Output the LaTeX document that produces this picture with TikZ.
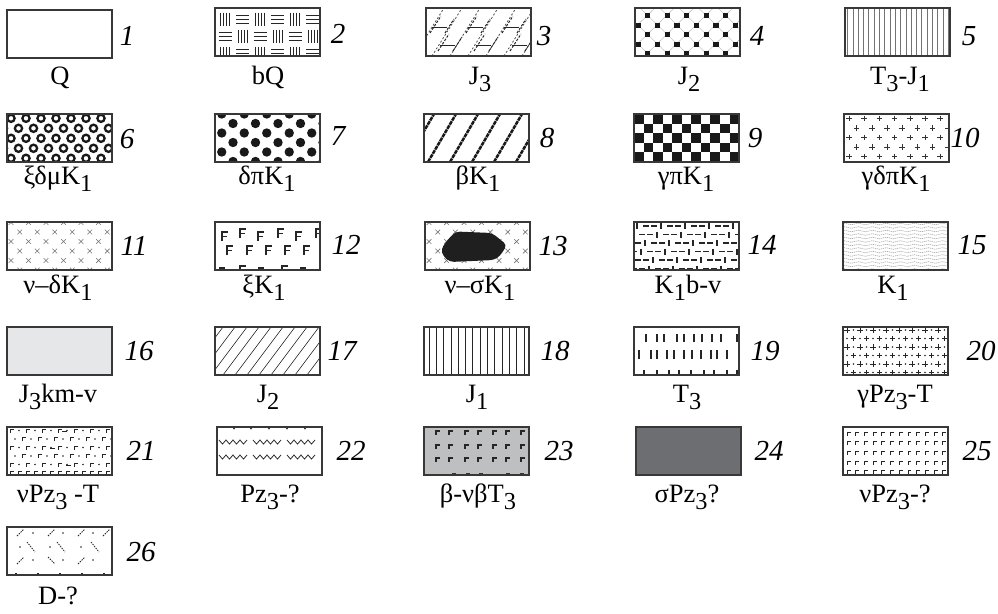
\documentclass[tikz,border=0pt]{standalone}
\usepackage{fontspec}
\setmainfont{Liberation Serif}
\usetikzlibrary{decorations.pathmorphing}
\definecolor{lgray}{HTML}{E6E7E8}
\definecolor{mgray}{HTML}{BEBFC1}
\definecolor{dgray}{HTML}{6D6E71}
\tikzset{
 frame/.style={draw=black!78, line width=1.4pt},
 num/.style={font=\fontsize{29}{29}\selectfont\itshape},
 lab/.style={font=\fontsize{26.5}{26.5}\selectfont, anchor=base},
}
\newcommand\lo[1]{\raisebox{-0.3em}{\scalebox{0.92}{#1}}}
\newcommand\legbox[3]{\begin{scope}[shift={(#1,#2)}]\begin{scope}\clip (0,0) rectangle (105,48);#3\end{scope}\draw[frame] (0,0) rectangle (105,48);\end{scope}}
\newcommand\Fg[2]{\draw[line width=1.5pt,black!85] (#1,#2+9) -- (#1,#2) -- (#1+6,#2) (#1,#2+4.5) -- (#1+4.5,#2+4.5);}
\newcommand\Gm[3]{\draw[line width=#3,black!85] (#1,#2+3.5) -- (#1,#2) -- (#1+3.5,#2);}
\newcommand\zz[3]{\draw[line width=0.8pt,black!85] (#1,#2) \foreach \q in {1,...,#3}{ -- ++(3.5,4) -- ++(3.5,-4)};}
\newcommand\crossgrid{\foreach \r in {0,...,5}{\foreach \i in {-1,...,6}{
   \pgfmathsetmacro\cx{4+17.5*\i+8.75*mod(\r,2)}\pgfmathsetmacro\cy{0.5+9.5*\r}
   \draw[black!55,line width=0.7pt] (\cx-2.3,\cy-2.3) -- (\cx+2.3,\cy+2.3) (\cx-2.3,\cy+2.3) -- (\cx+2.3,\cy-2.3);}}}
\begin{document}
\begin{tikzpicture}[x=1pt,y=-1pt]
\useasboundingbox (0,0) rectangle (998,613);
% ---------- row 1
\legbox{7}{10}{}
\legbox{215}{8}{
 \foreach \r in {0,1,2}{\foreach \i in {-1,...,6}{
  \pgfmathsetmacro\cx{10+17.5*\i}\pgfmathsetmacro\cy{11+17*\r}
  \pgfmathtruncatemacro\m{mod(\i+\r+10,2)}
  \ifnum\m=0 \foreach \d in {-4.5,-1.5,1.5,4.5}{\draw[line width=0.8pt,black!85] (\cx+\d,\cy-6.5) -- (\cx+\d,\cy+6.5);}
  \else \foreach \d in {-4,0,4}{\draw[line width=0.8pt,black!85] (\cx-6.5,\cy+\d) -- (\cx+6.5,\cy+\d);}\fi}}}
\legbox{426}{8}{
 \foreach \x in {-30,-12,...,110}{\draw[line width=0.8pt,black!70,dash pattern=on 2pt off 2pt] (\x,48) -- (\x+30,0);}
 \foreach \cx/\cy in {14/19,50/19,86/19,122/19,-14/37,22/37,58/37,94/37}{
  \draw[line width=1pt,black!85] (\cx-8,\cy) -- (\cx+7,\cy);
  \draw[line width=1pt,black!85,dash pattern=on 2.5pt off 1.5pt] (\cx-10,\cy+6) -- (\cx+1,\cy-11);
  \draw[line width=1pt,black!85,dash pattern=on 2.5pt off 1.5pt] (\cx+5,\cy+6) -- (\cx+14,\cy-8);}}
\legbox{635}{8}{
 \foreach \k in {-4,...,8}{
  \draw[black!30,line width=0.4pt] (2.7+19.5*\k-20,-1.8-20) -- ++(80,78);
  \draw[black!30,line width=0.4pt] (2.7+19.5*\k+20,-1.8-20) -- ++(-80,78);}
 \foreach \r in {0,...,5}{\foreach \i in {-1,...,6}{
  \pgfmathsetmacro\cx{12.7+19.5*\i-9.75*(1-mod(\r,2))}\pgfmathsetmacro\cy{-1.8+9.5*\r}
  \fill[black!90] (\cx-2.7,\cy-2.7) rectangle ++(5.4,5.4);}}}
\legbox{845}{8}{
 \foreach \x in {2.5,7.8,...,105}{\draw[black!55,line width=0.5pt] (\x,0) -- (\x,48);}}
% ---------- row 2
\legbox{7}{114}{
 \foreach \r in {0,...,4}{\foreach \i in {-1,...,7}{
  \pgfmathsetmacro\cx{4+15*\i+7.5*mod(\r,2)}\pgfmathsetmacro\cy{4.3+10*\r}
  \draw[black!90,line width=2.3pt] (\cx,\cy) circle[radius=3.6];}}}
\legbox{215}{114}{
 \foreach \r in {0,...,5}{\foreach \i in {-1,...,5}{
  \pgfmathsetmacro\cx{18+22.5*\i-11.25*(1-mod(\r,2))}\pgfmathsetmacro\cy{9.5*\r}
  \fill[black!90] (\cx,\cy) circle[radius=4.7];}}}
\legbox{424}{114}{
 \foreach \x in {-40,-18,...,110}{\draw[black!90,line width=2.5pt,dash pattern=on 4pt off 0.8pt] (\x,48) -- (\x+28,0);}}
\legbox{634}{114}{
 \foreach \i in {0,...,10}{\foreach \j in {0,...,4}{
  \pgfmathtruncatemacro\m{mod(\i+\j,2)}
  \ifnum\m=0 \fill[black!90] (\i*9.55,\j*9.6) rectangle ++(9.55,9.6);\fi}}}
\legbox{844}{114}{
 \foreach \r in {0,...,4}{\foreach \i in {-1,...,7}{
  \pgfmathsetmacro\cx{5+15.2*\i+7.6*mod(\r,2)}\pgfmathsetmacro\cy{4.5+9.5*\r}
  \draw[black!80,line width=0.6pt] (\cx-2.8,\cy) -- (\cx+2.8,\cy) (\cx,\cy-2.8) -- (\cx,\cy+2.8);}}}
% ---------- row 3
\legbox{7}{222}{\crossgrid}
\legbox{215}{222}{
 \Fg{7}{10}\Fg{25}{7}\Fg{43}{10}\Fg{63}{7}\Fg{81}{10}\Fg{101}{7}
 \Fg{12}{24}\Fg{32}{24}\Fg{51}{24}\Fg{70}{24}\Fg{89}{24}
 \Fg{25}{44}\Fg{67}{44}
 \foreach \x in {4,43,85}{\draw[line width=1.5pt,black!85] (\x,46) -- (\x+6,46);}}
\legbox{425}{222}{\crossgrid
 \fill[black!88,rounded corners=4pt] (18,34) -- (16,27) -- (25,15) -- (31,9.5) -- (67,11) -- (82,23) -- (75,34) -- (69,38) -- (25,40) -- cycle;}
\legbox{634}{222}{
 \foreach \r in {0,...,5}{\foreach \k in {-1,...,13}{
  \pgfmathsetmacro\xx{1+8*\k+4*mod(\r,2)}\pgfmathsetmacro\yy{4+8.5*\r}
  \pgfmathtruncatemacro\m{mod(\k+\r+3,3)}
  \ifnum\m=0 \draw[line width=1.3pt,black!85] (\xx+2,\yy-3) -- (\xx+2,\yy+3);
  \else \draw[line width=1.3pt,black!85] (\xx,\yy) -- (\xx+5.5,\yy);\fi}}}
\legbox{843}{222}{
 \foreach \y in {2,5.5,...,48}{\draw[black!35,line width=0.6pt,dash pattern=on 1.2pt off 0.8pt,decorate,decoration={snake,amplitude=0.8pt,segment length=14pt}] (-3,\y) -- (108,\y);}}
% ---------- row 4
\legbox{7}{327}{\fill[lgray] (0,0) rectangle (105,48);}
\legbox{215}{327}{
 \foreach \x in {-40,-28,...,110}{\draw[black!85,line width=0.6pt] (\x,48) -- (\x+36,0);}}
\legbox{424}{327}{
 \foreach \x in {5,12.3,...,105}{\draw[black!85,line width=0.8pt] (\x,0) -- (\x,48);}}
\legbox{634}{327}{
 \foreach \x in {12,23,30,43,50,60,68,78,87,103}{\draw[black!85,line width=1.2pt] (\x,7) -- (\x,15);}
 \foreach \x in {5,17,23,33,40,50,58,67,77,83,93}{\draw[black!85,line width=1.2pt] (\x,23) -- (\x,32);}
 \foreach \x in {10,23,35,45,57,70,80,93,103}{\draw[black!85,line width=1.2pt] (\x,43) -- (\x,48);}}
\legbox{843}{327}{
 \foreach \r in {0,...,5}{\foreach \i in {-1,...,8}{
  \pgfmathsetmacro\cx{4+13*\i+6.5*mod(\r,2)}\pgfmathsetmacro\cy{3+8.5*\r}
  \draw[black!85,line width=0.6pt] (\cx-2.6,\cy) -- (\cx+2.6,\cy) (\cx,\cy-2.6) -- (\cx,\cy+2.6);
  \fill[black!85] (\cx+6.5,\cy) circle[radius=0.8];}}}
% ---------- row 5
\legbox{7}{427}{
 \foreach \r in {0,...,4}{\foreach \k in {0,...,12}{
  \pgfmathsetmacro\xx{3+8*\k+4*mod(\r,2)}\pgfmathsetmacro\yy{2+8.5*\r}
  \pgfmathtruncatemacro\m{mod(\k+\r,2)}
  \ifnum\m=0 \Gm{\xx}{\yy}{0.9pt}\else\fill[black!85] (\xx+1,\yy+1.5) circle[radius=0.9];\fi}}
 \foreach \x/\y in {55/4.5,43/21.5,59/38.5}{\fill[black!85] (\x,\y-0.9) rectangle ++(5,1.8);}
 \foreach \k in {0,...,12}{\Gm{3+8*\k}{44}{0.9pt}}}
\legbox{217}{427}{
 \zz{2}{13}{4}\zz{36}{13}{4}\zz{70}{13}{4}
 \zz{2}{28}{4}\zz{36}{28}{4}\zz{70}{28}{4}
 \foreach \x in {15,32,50,68,86}{\draw[line width=0.8pt,black!85] (\x,-1) -- (\x+2,2) -- (\x+4,-1);}}
\legbox{424}{427}{\fill[mgray] (0,0) rectangle (105,48);
 \foreach \y in {4,18,31}{\foreach \x in {12,25,41,54,69,82,97}{\Gm{\x}{\y}{1.1pt}}}
 \foreach \x in {28,42,55,82,96}{\draw[line width=1.1pt,black!80] (\x,46.5) -- (\x+4,46.5);}}
\legbox{636}{427}{\fill[dgray] (0,0) rectangle (105,48);}
\legbox{843}{427}{
 \foreach \r in {0,...,4}{\foreach \k in {0,...,12}{\Gm{4+8.7*\k}{5+9.7*\r}{0.7pt}}}}
% ---------- row 6
\legbox{7}{527}{
 \foreach \x in {13,44,74,99}{\draw[line width=0.8pt,black!85,dash pattern=on 1.5pt off 1pt] (\x-3,9) -- (\x+4,2);}
 \foreach \x in {26,56,86}{\fill[black!85] (\x,6) circle[radius=0.8];}
 \foreach \x in {13,43,74}{\fill[black!85] (\x,20) circle[radius=0.8];}
 \foreach \x in {24,54,88}{\draw[line width=0.8pt,black!85,dash pattern=on 1.5pt off 1pt] (\x-4,15) -- (\x+4,25);}
 \foreach \x in {13,74}{\draw[line width=0.8pt,black!85,dash pattern=on 1.5pt off 1pt] (\x-3,37) -- (\x+4,30);}
 \foreach \x in {44}{\draw[line width=0.8pt,black!85,dash pattern=on 1.5pt off 1pt] (\x-3,30) -- (\x+4,37);}
 \foreach \x in {26,56,86}{\fill[black!85] (\x,33) circle[radius=0.8];}
 \foreach \x in {8,30,52,74,96}{\draw[line width=0.8pt,black!85] (\x,46) -- (\x+2,46);}}
% ---------- numbers
\node[num] (n1) at (127,36) {1};
\node[num] (n2) at (338,34) {2};
\node[num] (n3) at (544,36) {3};
\node[num] (n4) at (757,36) {4};
\node[num] (n5) at (969,36) {5};
\node[num] (n6) at (127,139) {6};
\node[num] (n7) at (338,136) {7};
\node[num] (n8) at (547,138) {8};
\node[num] (n9) at (755,138) {9};
\node[num] (n10) at (965,138) {10};
\node[num] (n11) at (134,246) {11};
\node[num] (n12) at (346,245) {12};
\node[num] (n13) at (553,246) {13};
\node[num] (n14) at (762,245) {14};
\node[num] (n15) at (972,245) {15};
\node[num] (n16) at (139,351) {16};
\node[num] (n17) at (342,351) {17};
\node[num] (n18) at (555,351) {18};
\node[num] (n19) at (765,351) {19};
\node[num] (n20) at (981,351) {20};
\node[num] (n21) at (141,451) {21};
\node[num] (n22) at (351,451) {22};
\node[num] (n23) at (559,451) {23};
\node[num] (n24) at (769,451) {24};
\node[num] (n25) at (977,451) {25};
\node[num] (n26) at (141,552) {26};
% ---------- labels
\node[lab] (l1) at (60,84) {Q};
\node[lab] (l2) at (268,84) {bQ};
\node[lab] (l3) at (480,84) {J\lo{3}};
\node[lab] (l4) at (689,84) {J\lo{2}};
\node[lab] (l5) at (900,84) {T\lo{3}-J\lo{1}};
\node[lab] (l6) at (58,184) {ξδμK\lo{1}};
\node[lab] (l7) at (267,184) {δπK\lo{1}};
\node[lab] (l8) at (478,184) {βK\lo{1}};
\node[lab] (l9) at (686,184) {γπK\lo{1}};
\node[lab] (l10) at (896,184) {γδπK\lo{1}};
\node[lab] (l11) at (58,293) {ν–δK\lo{1}};
\node[lab] (l12) at (264,293) {ξK\lo{1}};
\node[lab] (l13) at (480,293) {ν–σK\lo{1}};
\node[lab] (l14) at (688,293) {K\lo{1}b-v};
\node[lab] (l15) at (893,293) {K\lo{1}};
\node[lab] (l16) at (58,402) {J\lo{3}km-v};
\node[lab] (l17) at (268,402) {J\lo{2}};
\node[lab] (l18) at (477,402) {J\lo{1}};
\node[lab] (l19) at (687,402) {T\lo{3}};
\node[lab] (l20) at (895,402) {γPz\lo{3}-T};
\node[lab] (l21) at (58,502) {νPz\lo{3} -T};
\node[lab] (l22) at (270,502) {Pz\lo{3}-?};
\node[lab] (l23) at (478,502) {β-νβT\lo{3}};
\node[lab] (l24) at (687,502) {σPz\lo{3}?};
\node[lab] (l25) at (895,502) {νPz\lo{3}-?};
\node[lab] (l26) at (58,604) {D-?};
\end{tikzpicture}
\end{document}
